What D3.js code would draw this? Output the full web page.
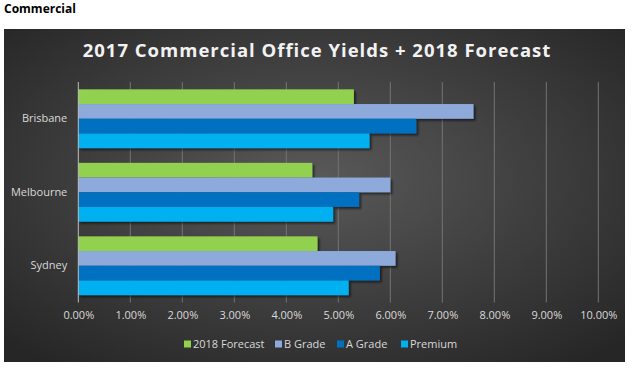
<!DOCTYPE html>
<html>
<head>
<meta charset="utf-8">
<script src="https://cdn.jsdelivr.net/npm/d3@7"></script>
<style>
  body { margin: 0; background: #fff; }
  svg { display: block; font-family: "Open Sans", "Noto Sans", sans-serif; }
</style>
</head>
<body>
<div id="visual"></div>
<script>
// city rows, top to bottom
cities = ["Brisbane", "Melbourne", "Sydney"]
seriesNames = ["2018 Forecast", "B Grade", "A Grade", "Premium"]
seriesColors = ["#92d050", "#8eaadb", "#0070c0", "#00b0f0"]

// yields in %, one array per series, in city order
forecast2018 = [5.3, 4.5, 4.6]
bGrade = [7.6, 6.0, 6.1]
aGrade = [6.5, 5.4, 5.8]
premium = [5.6, 4.9, 5.2]

xTicks = [0, 1, 2, 3, 4, 5, 6, 7, 8, 9, 10]

const seriesValues = [forecast2018, bGrade, aGrade, premium]
const W = 634, H = 371
const panel = {x: 4, y: 29, w: 621, h: 333}
const plot = {left: 78.3, right: 598.3, top: 82, bottom: 302.5}

const svg = d3.select('#visual').append('svg')
    .attr("width", W)
    .attr("height", H)

const defs = svg.append("defs")
const grad = defs.append("radialGradient")
    .attr("id", "bg")
    .attr("cx", "50%").attr("cy", "45%").attr("r", "70%")
grad.append("stop").attr("offset", "0%").attr("stop-color", "#595959")
grad.append("stop").attr("offset", "100%").attr("stop-color", "#262626")

const shadow = defs.append("filter").attr("id", "shadow")
    .attr("x", "-5%").attr("y", "-20%").attr("width", "115%").attr("height", "160%")
shadow.append("feDropShadow")
    .attr("dx", 2).attr("dy", 2).attr("stdDeviation", 1.2)
    .attr("flood-color", "#000").attr("flood-opacity", 0.55)

// page heading
svg.append("text")
    .attr("x", 4).attr("y", 13)
    .attr("font-size", 12).attr("font-weight", "bold")
    .attr("fill", "#000")
    .attr("font-family", "'Liberation Sans Narrow', 'Open Sans', sans-serif")
    .text("Commercial")

svg.append("rect")
    .attr("x", panel.x).attr("y", panel.y)
    .attr("width", panel.w).attr("height", panel.h)
    .attr("fill", "url(#bg)")

svg.append("text")
    .attr("x", 317).attr("y", 57)
    .attr("text-anchor", "middle")
    .attr("font-size", 18.5).attr("font-weight", "bold")
    .attr("fill", "#f2f2f2")
    .attr("letter-spacing", 1)
    .text("2017 Commercial Office Yields + 2018 Forecast")

const x = d3.scaleLinear().domain([0, 10]).range([plot.left, plot.right])
const y = d3.scaleBand().domain(cities).range([plot.top, plot.bottom]).paddingInner(0.2).paddingOuter(0.1)
const ySub = d3.scaleBand().domain(seriesNames).range([0, y.bandwidth()])

// gridlines
svg.append("g")
  .selectAll("line")
  .data(xTicks.slice(1))
  .enter().append("line")
    .attr("x1", d => x(d)).attr("x2", d => x(d))
    .attr("y1", plot.top).attr("y2", plot.bottom)
    .attr("stroke", "#737373").attr("stroke-width", 1)

// bars
const groups = svg.append("g")
  .selectAll("g")
  .data(cities)
  .enter().append("g")
    .attr("transform", d => `translate(0,${y(d)})`)

groups.selectAll("rect")
  .data((c, ci) => seriesNames.map((s, si) => ({s, si, v: seriesValues[si][ci]})))
  .enter().append("rect")
    .attr("x", x(0))
    .attr("y", d => ySub(d.s))
    .attr("width", d => x(d.v) - x(0))
    .attr("height", ySub.bandwidth())
    .attr("fill", d => seriesColors[d.si])
    .attr("filter", "url(#shadow)")

// vertical axis line
svg.append("line")
    .attr("x1", x(0)).attr("x2", x(0))
    .attr("y1", plot.top).attr("y2", plot.bottom)
    .attr("stroke", "#bfbfbf").attr("stroke-width", 1)

// x axis labels
const xAxis = d3.axisBottom(x).tickValues(xTicks).tickSize(0).tickPadding(0)
    .tickFormat(d => d.toFixed(2) + "%")
const gx = svg.append("g").attr("transform", `translate(0,${plot.bottom + 9})`).call(xAxis)
gx.select(".domain").remove()
gx.selectAll("text").attr("fill", "#d9d9d9").attr("font-size", 11)
    .attr("font-family", "'Open Sans', sans-serif").attr("dy", "0.71em")

// y axis labels
const yAxis = d3.axisLeft(y).tickSize(0).tickPadding(11)
const gy = svg.append("g").attr("transform", `translate(${x(0)},0)`).call(yAxis)
gy.select(".domain").remove()
gy.selectAll("text").attr("fill", "#d9d9d9").attr("font-size", 11)
    .attr("font-family", "'Open Sans', sans-serif")

// legend
const legendX = [184, 275, 337, 401]
const legend = svg.append("g")
  .selectAll("g")
  .data(seriesNames)
  .enter().append("g")
    .attr("transform", (d, i) => `translate(${legendX[i]},344)`)
legend.append("rect")
    .attr("x", 0).attr("y", -3.5).attr("width", 7).attr("height", 7)
    .attr("fill", (d, i) => seriesColors[i])
legend.append("text")
    .attr("x", 9).attr("dy", "0.35em")
    .attr("fill", "#d9d9d9").attr("font-size", 11)
    .text(d => d)
</script>
</body>
</html>
